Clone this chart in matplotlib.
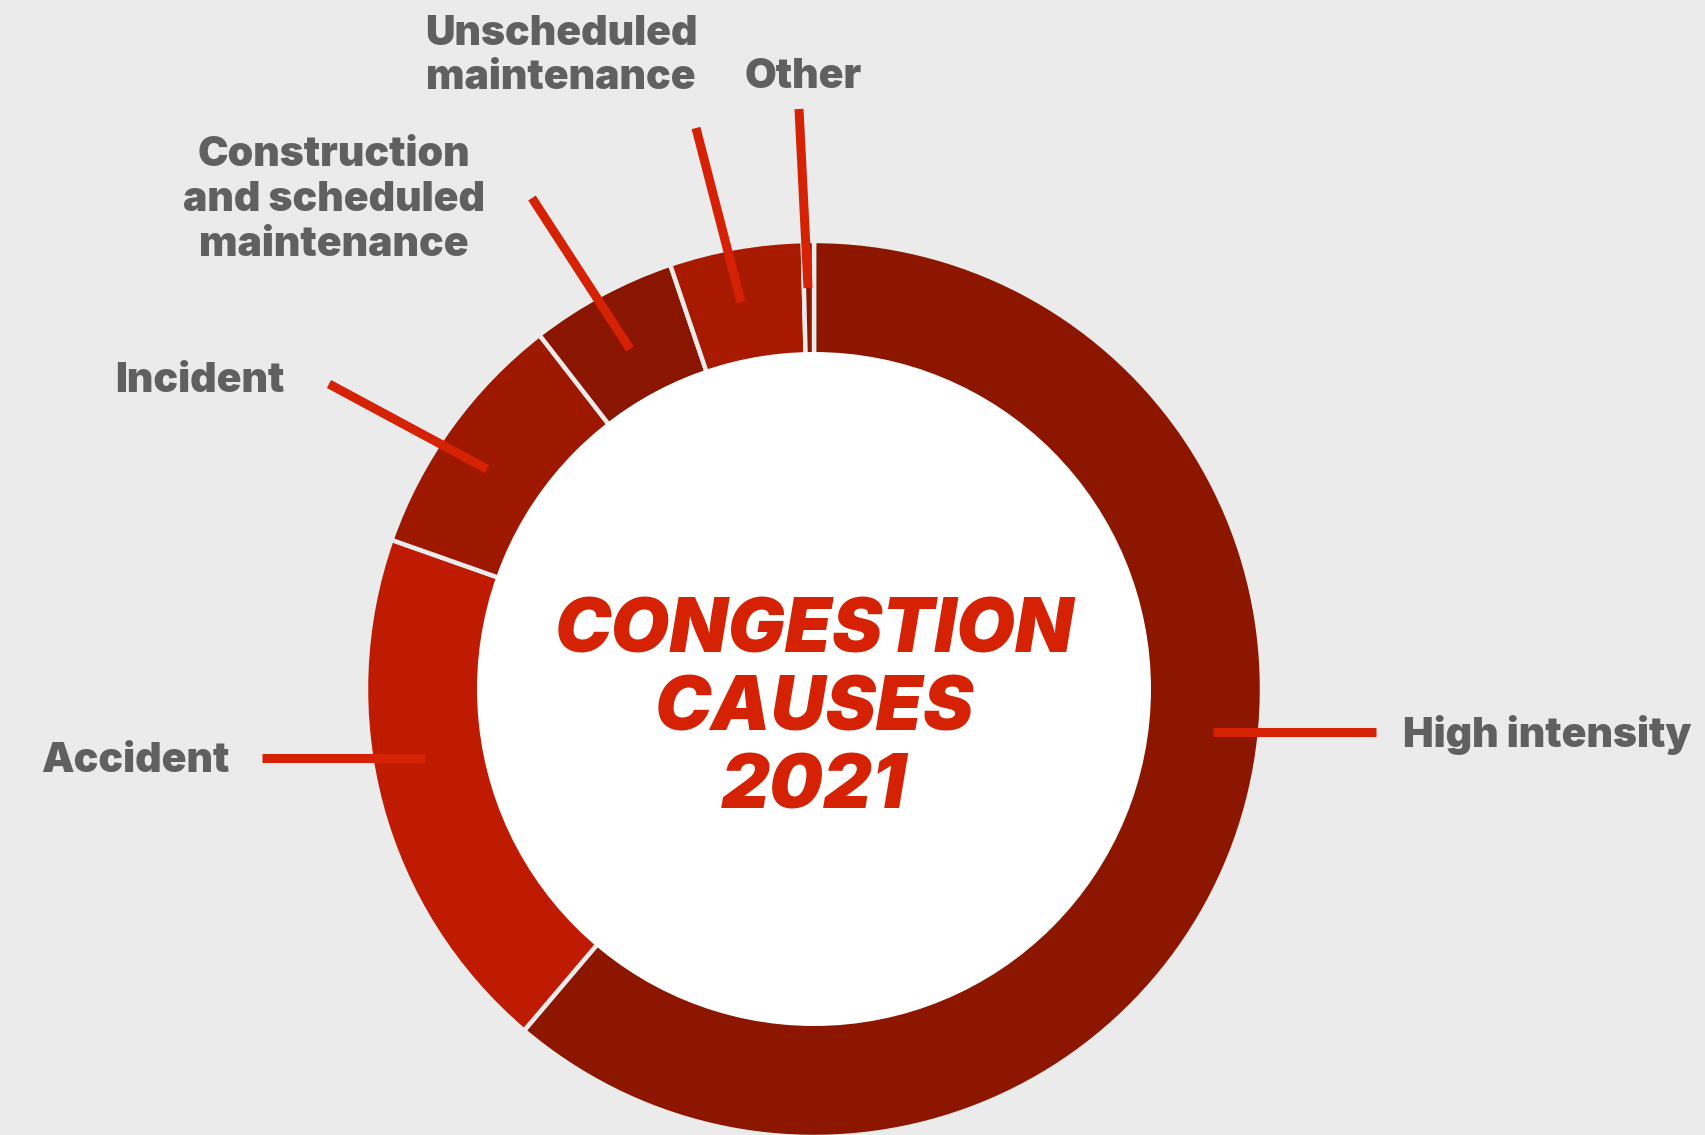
import matplotlib
matplotlib.use("Agg")
import matplotlib.pyplot as plt
from matplotlib.patches import Circle

# congestion causes, share of total (%)
causes = ["High intensity", "Accident", "Incident",
          "Construction\nand scheduled\nmaintenance",
          "Unscheduled\nmaintenance", "Other"]
shares = [61.2, 19.2, 9.1, 5.3, 4.8, 0.4]
slice_colors = ["#8C1600", "#BE1B02", "#9E1800", "#8A1500", "#A81A00", "#8C1600"]

W, H = 1706, 1135
BG = "#EBEBEB"
LEAD = "#D52104"
GREY = "#606060"

fig = plt.figure(figsize=(W / 100, H / 100), dpi=100, facecolor=BG)
ax = fig.add_axes([0, 0, 1, 1])
ax.set_facecolor(BG)

cx, cy = 814, H - 689
r_out, r_in = 448, 337

ax.pie(shares, colors=slice_colors, startangle=90, counterclock=False,
       radius=r_out, center=(cx, cy),
       wedgeprops=dict(edgecolor=BG, linewidth=3.2))
ax.add_patch(Circle((cx, cy), r_in, facecolor="white", edgecolor="none", zorder=5))

# leader lines (pixel coords, y measured from top)
leaders = [
    ((1213, 732), (1376, 732)),
    ((262, 758), (425, 758)),
    ((329, 384), (487, 469)),
    ((532, 198), (630, 349)),
    ((696, 128), (741, 302)),
    ((799, 109), (808, 288)),
]
for (x0, y0), (x1, y1) in leaders:
    ax.plot([x0, x1], [H - y0, H - y1], color=LEAD, lw=6.5,
            solid_capstyle="butt", zorder=4)

lab = dict(family=["Inter", "DejaVu Sans"], weight="black", fontsize=29.5,
           color=GREY, linespacing=1.22, zorder=6)
ax.text(1403, H - 735, causes[0], ha="left", va="center", **lab)
ax.text(229, H - 761, causes[1], ha="right", va="center", **lab)
ax.text(285, H - 381, causes[2], ha="right", va="center", **lab)
ax.text(334, H - 200, causes[3], ha="center", va="center", **lab)
ax.text(561, H - 56, causes[4], ha="center", va="center", **lab)
ax.text(803, H - 77, causes[5], ha="center", va="center", **lab)

ax.text(cx, H - 711, "CONGESTION\nCAUSES\n2021", ha="center", va="center",
        family=["Inter", "Roboto", "DejaVu Sans"], weight="black", style="italic",
        fontsize=54.5, color=LEAD, linespacing=1.12, zorder=7)

ax.set_xlim(0, W)
ax.set_ylim(0, H)
ax.set_aspect("equal")
ax.axis("off")

fig.savefig("out.png", dpi=100, facecolor=BG)
